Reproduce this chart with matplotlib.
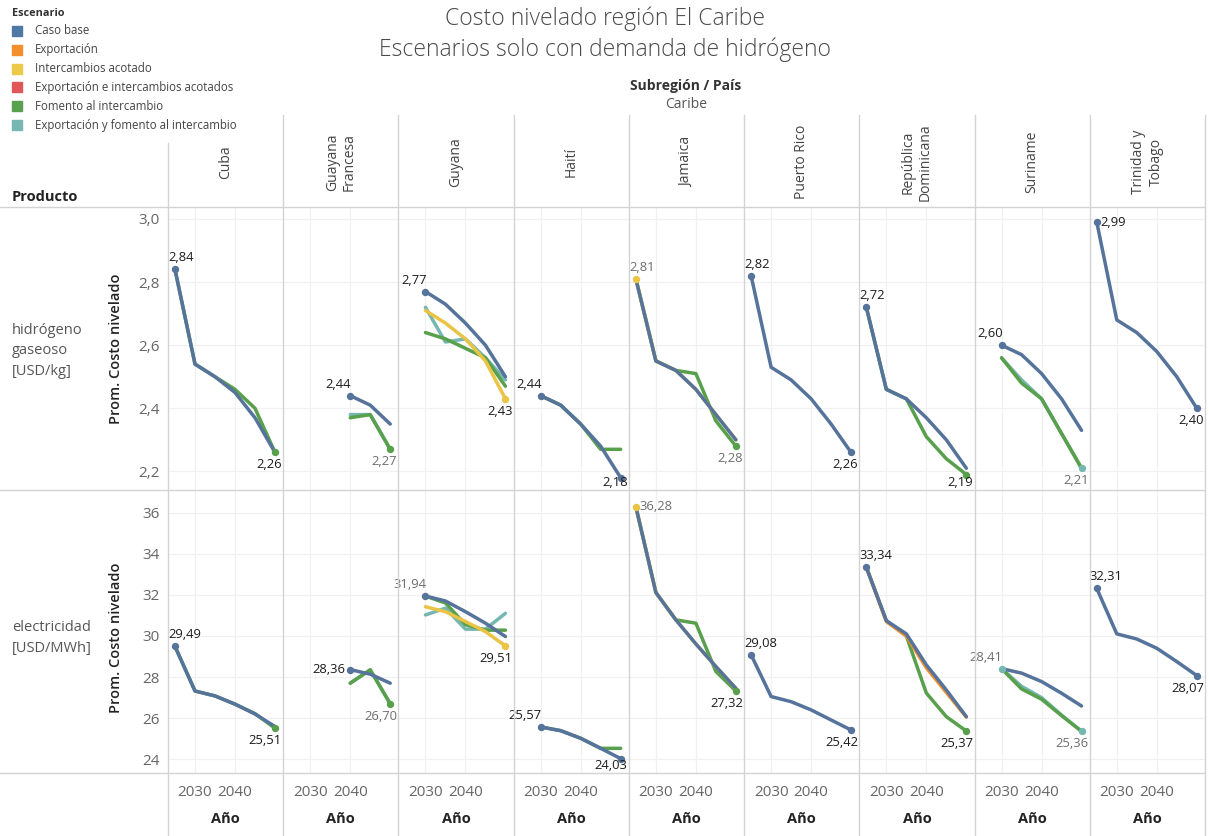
import numpy as np
import matplotlib
matplotlib.use("Agg")
import matplotlib.pyplot as plt
from matplotlib.lines import Line2D

plt.rcParams['font.family'] = ['Open Sans', 'DejaVu Sans']

n = np.nan
years = [2025, 2030, 2035, 2040, 2045, 2050]
countries = ["Cuba", "Guayana Francesa", "Guyana", "Haití", "Jamaica",
             "Puerto Rico", "República Dominicana", "Suriname", "Trinidad y Tobago"]
header_labels = ["Cuba", "Guayana\nFrancesa", "Guyana", "Haití", "Jamaica",
                 "Puerto Rico", "República\nDominicana", "Suriname", "Trinidad y\nTobago"]
scenarios = ["Caso base", "Exportación", "Intercambios acotado",
             "Exportación e intercambios acotados", "Fomento al intercambio",
             "Exportación y fomento al intercambio"]
legend_colors = ["#4e79a7", "#f28e2b", "#edc948", "#e15759", "#59a14f", "#76b7b2"]
line_colors = ["#56739b", "#f28e2b", "#eac445", "#e15759", "#58a04c", "#76b7b2"]
y_ticks_h2 = [2.2, 2.4, 2.6, 2.8, 3.0]
y_ticks_elec = [24, 26, 28, 30, 32, 34, 36]
x_ticks = [2030, 2040]

# ---- hidrógeno gaseoso [USD/kg] ----
h2_caso_base = {
    "Cuba": [2.84, 2.54, 2.50, 2.45, 2.37, 2.26],
    "Guayana Francesa": [n, n, n, 2.44, 2.41, 2.35],
    "Guyana": [n, 2.77, 2.73, 2.67, 2.60, 2.50],
    "Haití": [n, 2.44, 2.41, 2.35, 2.28, 2.18],
    "Jamaica": [2.81, 2.55, 2.52, 2.46, 2.38, 2.30],
    "Puerto Rico": [2.82, 2.53, 2.49, 2.43, 2.35, 2.26],
    "República Dominicana": [2.72, 2.46, 2.43, 2.37, 2.30, 2.21],
    "Suriname": [n, 2.60, 2.57, 2.51, 2.43, 2.33],
    "Trinidad y Tobago": [2.99, 2.68, 2.64, 2.58, 2.50, 2.40],
}
h2_exportacion = {}
h2_intercambios = {
    "Guyana": [n, 2.71, 2.67, 2.62, 2.55, 2.43],
    "Jamaica": [2.81, 2.55, 2.52, 2.46, 2.38, 2.30],
}
h2_export_interc = {}
h2_fomento = {
    "Cuba": [2.84, 2.54, 2.50, 2.46, 2.40, 2.26],
    "Guayana Francesa": [n, n, n, 2.37, 2.38, 2.27],
    "Guyana": [n, 2.64, 2.62, 2.59, 2.56, 2.47],
    "Haití": [n, 2.44, 2.41, 2.35, 2.27, 2.27],
    "Jamaica": [2.81, 2.55, 2.52, 2.51, 2.36, 2.28],
    "República Dominicana": [2.72, 2.46, 2.43, 2.31, 2.24, 2.19],
    "Suriname": [n, 2.56, 2.48, 2.43, 2.32, 2.21],
}
h2_export_fomento = {
    "Guayana Francesa": [n, n, n, 2.38, 2.38, 2.27],
    "Guyana": [n, 2.72, 2.61, 2.62, 2.56, 2.49],
    "Suriname": [n, 2.56, 2.49, 2.43, 2.32, 2.21],
}

# ---- electricidad [USD/MWh] ----
elec_caso_base = {
    "Cuba": [29.49, 27.32, 27.08, 26.68, 26.20, 25.59],
    "Guayana Francesa": [n, n, n, 28.36, 28.14, 27.70],
    "Guyana": [n, 31.94, 31.70, 31.18, 30.62, 29.97],
    "Haití": [n, 25.57, 25.39, 25.02, 24.53, 24.03],
    "Jamaica": [36.28, 32.11, 30.78, 29.61, 28.51, 27.45],
    "Puerto Rico": [29.08, 27.05, 26.80, 26.40, 25.91, 25.42],
    "República Dominicana": [33.34, 30.74, 30.10, 28.59, 27.37, 26.07],
    "Suriname": [n, 28.41, 28.19, 27.78, 27.21, 26.59],
    "Trinidad y Tobago": [32.31, 30.10, 29.85, 29.40, 28.75, 28.07],
}
elec_exportacion = {
    "República Dominicana": [33.34, 30.70, 30.00, 28.45, 27.25, 26.05],
}
elec_intercambios = {
    "Guyana": [n, 31.42, 31.18, 30.70, 30.21, 29.51],
    "Jamaica": [36.28, 32.11, 30.78, 29.61, 28.51, 27.45],
}
elec_export_interc = {}
elec_fomento = {
    "Cuba": [29.49, 27.32, 27.08, 26.68, 26.22, 25.51],
    "Guayana Francesa": [n, n, n, 27.70, 28.35, 26.70],
    "Guyana": [n, 31.94, 31.60, 30.55, 30.28, 30.28],
    "Haití": [n, 25.57, 25.39, 25.02, 24.53, 24.53],
    "Jamaica": [36.28, 32.11, 30.78, 30.62, 28.27, 27.32],
    "República Dominicana": [33.34, 30.74, 30.00, 27.22, 26.07, 25.37],
    "Suriname": [n, 28.41, 27.42, 26.92, 26.12, 25.36],
}
elec_export_fomento = {
    "Guayana Francesa": [n, n, n, 27.70, 28.35, 26.70],
    "Guyana": [n, 31.02, 31.35, 30.33, 30.33, 31.10],
    "Suriname": [n, 28.41, 27.55, 27.00, 26.15, 25.36],
}

h2_series = [h2_caso_base, h2_exportacion, h2_intercambios,
             h2_export_interc, h2_fomento, h2_export_fomento]
elec_series = [elec_caso_base, elec_exportacion, elec_intercambios,
               elec_export_interc, elec_fomento, elec_export_fomento]

# label owners (scenario index) for first / last value per panel
h2_owner_first = [0, 0, 0, 0, 2, 0, 0, 0, 0]
h2_owner_last = [4, 4, 2, 0, 4, 0, 4, 5, 0]
elec_owner_first = [0, 0, 0, 0, 2, 0, 0, 5, 0]
elec_owner_last = [4, 4, 2, 0, 4, 0, 4, 5, 0]
# label styling / placement overrides
light_labels = {("h2", 1, "last"), ("h2", 4, "first"), ("h2", 4, "last"),
                ("h2", 7, "last"), ("elec", 1, "last"), ("elec", 2, "first"),
                ("elec", 4, "first"), ("elec", 7, "first"), ("elec", 7, "last")}
first_mode_override = {("h2", 8): "right", ("elec", 4): "right", ("elec", 1): "left"}

# ------------------------------------------------------------------
W, H = 1209, 836
fig = plt.figure(figsize=(W / 100, H / 100), dpi=100)
PT = 0.72  # points per pixel


def fx(x):
    return x / W


def fy(y):
    return 1 - y / H


GRID_C = "#d3d3d3"
X0, X1 = 168, 1205
col_w = (X1 - X0) / 9
draw_order = [5, 4, 3, 1, 2, 0]

rows = [
    ("h2", 207, 490, (2.141, 3.038), y_ticks_h2, h2_series,
     h2_owner_first, h2_owner_last, lambda t: f"{t:.1f}".replace(".", ",")),
    ("elec", 490, 773, (23.33, 37.10), y_ticks_elec, elec_series,
     elec_owner_first, elec_owner_last, lambda t: f"{t:.0f}"),
]

for (key, top, bot, ylim, yticks, series, own_f, own_l, tfmt) in rows:
    for i, c in enumerate(countries):
        L = X0 + i * col_w
        ax = fig.add_axes([fx(L), fy(bot), col_w / W, (bot - top) / H])
        ax.set_xlim(2023.25, 2023.25 + col_w / 4.0)
        ax.set_ylim(*ylim)
        ax.set_xticks(x_ticks)
        ax.set_yticks(yticks)
        ax.grid(True, color="#f1f1f1", lw=0.9)
        ax.set_axisbelow(True)
        for sp in ax.spines.values():
            sp.set_visible(False)
        ax.patch.set_alpha(0)
        ax.tick_params(length=0, labelleft=(i == 0), labelbottom=(key == "elec"),
                       labelsize=11, labelcolor="#666666", pad=6)
        ax.tick_params(axis="x", pad=9)
        if i == 0:
            ax.set_yticklabels([tfmt(t) for t in yticks])
        if key == "elec":
            ax.set_xticklabels([str(t) for t in x_ticks])
        # lines
        for k, s in enumerate(draw_order):
            d = series[s].get(c)
            if d is None:
                continue
            ax.plot(years, d, color=line_colors[s], lw=2.5,
                    solid_capstyle="round", solid_joinstyle="round", zorder=2 + k)
        # labels
        ppu = (bot - top) / (ylim[1] - ylim[0])
        for which, owner in (("first", own_f[i]), ("last", own_l[i])):
            d = np.array(series[owner][c], dtype=float)
            idx = np.where(~np.isnan(d))[0]
            j = idx[0] if which == "first" else idx[-1]
            xv, yv = years[j], d[j]
            col = line_colors[owner]
            ax.plot([xv], [yv], "o", ms=4.3, color=col, zorder=20, clip_on=False)
            txt = f"{yv:.2f}".replace(".", ",")
            tc = "#6e6e6e" if (key, i, which) in light_labels else "#1c1c1c"
            if which == "first":
                mode = first_mode_override.get((key, i), "above")
                if mode == "right":
                    off, ha, va = (4, 0), "left", "center"
                elif mode == "left":
                    off, ha, va = (-5, 0), "right", "center"
                elif xv == years[0]:
                    off, ha, va = (-7, 5), "left", "bottom"
                else:
                    off, ha, va = (1, 5), "right", "bottom"
            else:
                py = top + (ylim[1] - yv) * ppu
                down = min(6, (bot - 14) - py)
                off, ha, va = (7, -down), "right", "top"
            ax.annotate(txt, (xv, yv), xytext=(off[0] * PT, off[1] * PT),
                        textcoords="offset points", ha=ha, va=va,
                        fontsize=9.4, color=tc, zorder=25, annotation_clip=False)

# separators
for y in (207, 490, 773):
    fig.add_artist(Line2D([fx(0), fx(X1)], [fy(y), fy(y)], color=GRID_C, lw=1))
for i in range(10):
    x = X0 + i * col_w
    y_start = 143 if i == 0 else 115
    fig.add_artist(Line2D([fx(x), fx(x)], [fy(y_start), fy(836)], color=GRID_C, lw=1))

# column headers and x-axis titles
for i, lab in enumerate(header_labels):
    cx = X0 + (i + 0.5) * col_w
    fig.text(fx(cx), fy(162), lab, rotation=90, ha="center", va="center",
             multialignment="center", fontsize=10, color="#444444", linespacing=1.2)
    fig.text(fx(cx), fy(819), "Año", ha="center", va="center", fontsize=10.5,
             fontweight="bold", color="#222222")

# titles
fig.text(fx(605), fy(19), "Costo nivelado región El Caribe", ha="center", va="center",
         fontsize=16.5, color="#4a4a4a", fontweight="light")
fig.text(fx(605), fy(50), "Escenarios solo con demanda de hidrógeno", ha="center",
         va="center", fontsize=16.5, color="#4a4a4a", fontweight="light")
fig.text(fx(686), fy(86), "Subregión / País", ha="center", va="center", fontsize=10,
         fontweight="bold", color="#333333")
fig.text(fx(686), fy(104), "Caribe", ha="center", va="center", fontsize=10,
         color="#555555")
fig.text(fx(12), fy(197), "Producto", ha="left", va="center", fontsize=10.5,
         fontweight="bold", color="#222222")

# row headers
fig.text(fx(12), fy(351), "hidrógeno\ngaseoso\n[USD/kg]", ha="left", va="center",
         fontsize=10.5, color="#555555", linespacing=1.5)
fig.text(fx(12), fy(638), "electricidad\n[USD/MWh]", ha="left", va="center",
         fontsize=10.5, color="#555555", linespacing=1.5)
for cy in (348.5, 638):
    fig.text(fx(116), fy(cy), "Prom. Costo nivelado", rotation=90, ha="center",
             va="center", fontsize=10.5, fontweight="semibold", color="#222222")

# legend
fig.text(fx(12), fy(14), "Escenario", ha="left", va="center", fontsize=7.8,
         fontweight="bold", color="#333333")
for k, (name, colr) in enumerate(zip(scenarios, legend_colors)):
    yc = 31 + k * 18.8
    fig.patches.append(plt.Rectangle((fx(12), fy(yc + 5)), 10 / W, 10 / H,
                                     transform=fig.transFigure, color=colr))
    fig.text(fx(35), fy(yc), name, ha="left", va="center", fontsize=8.3, color="#444444")

fig.savefig("out.png", dpi=100)
